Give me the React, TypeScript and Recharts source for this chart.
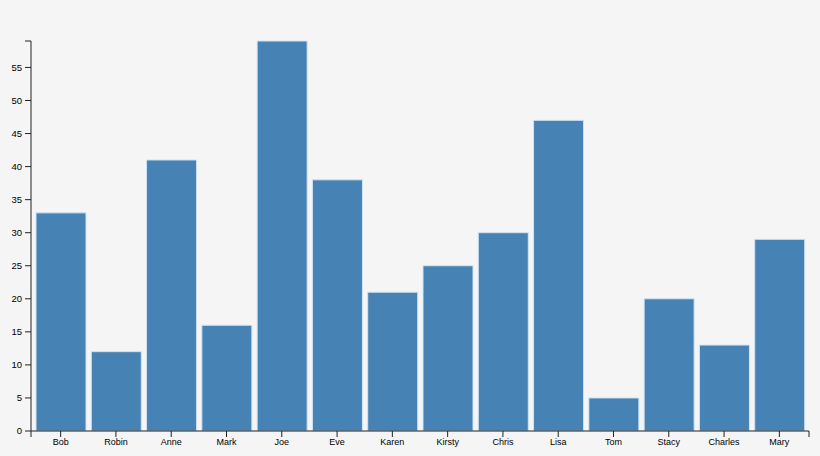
import React from "react";
import { BarChart, Bar, XAxis, YAxis } from "recharts";

const names = ["Bob", "Robin", "Anne", "Mark", "Joe", "Eve", "Karen", "Kirsty", "Chris", "Lisa", "Tom", "Stacy", "Charles", "Mary"];
const values = [33, 12, 41, 16, 59, 38, 21, 25, 30, 47, 5, 20, 13, 29];
const yTicks = [0, 5, 10, 15, 20, 25, 30, 35, 40, 45, 50, 55, 59];
const yLabelled = [0, 5, 10, 15, 20, 25, 30, 35, 40, 45, 50, 55];

const data = names.map((name, i) => ({ name, value: values[i] }));

const W = 820;
const H = 456;
const MARGIN = { top: 41, right: 11, bottom: 0, left: 0 };
const Y_AXIS_W = 31;
const X_AXIS_H = 25;
const PLOT_LEFT = MARGIN.left + Y_AXIS_W;
const PLOT_RIGHT = W - MARGIN.right;
const AXIS_COLOR = "#222";
const FONT = "'Liberation Sans', Arial, sans-serif";

const YTick = (props: any) => {
  const { y, payload } = props;
  const v = payload.value;
  const x2 = PLOT_LEFT;
  const x1 = PLOT_LEFT - 6;
  return (
    <g>
      <line x1={x1} x2={x2} y1={y} y2={y} stroke={AXIS_COLOR} strokeWidth={1} />
      {yLabelled.includes(v) ? (
        <text x={x1 - 3} y={y} dy={3.3} textAnchor="end" fontSize={9.5} fontFamily={FONT} fill="#000">
          {v}
        </text>
      ) : null}
    </g>
  );
};

const XTick = (props: any) => {
  const { x, y, payload, index } = props;
  const last = names.length - 1;
  return (
    <g>
      <line x1={x} x2={x} y1={y - 6} y2={y} stroke={AXIS_COLOR} strokeWidth={1} />
      {index === 0 ? <line x1={PLOT_LEFT} x2={PLOT_LEFT} y1={y - 6} y2={y} stroke={AXIS_COLOR} strokeWidth={1} /> : null}
      {index === last ? <line x1={PLOT_RIGHT} x2={PLOT_RIGHT} y1={y - 6} y2={y} stroke={AXIS_COLOR} strokeWidth={1} /> : null}
      <text x={x} y={y} dy={7.5} textAnchor="middle" fontSize={9} fontFamily={FONT} fill="#000">
        {payload.value}
      </text>
    </g>
  );
};

export default function App() {
  return (
    <div style={{ position: "fixed", left: 0, top: 0, width: W, height: H, background: "#f5f5f5" }}>
      <BarChart width={W} height={H} data={data} margin={MARGIN}>
        <XAxis
          dataKey="name"
          height={X_AXIS_H}
          padding={{ left: 2, right: 2 }}
          tickLine={false}
          tickSize={6}
          tickMargin={0}
          interval={0}
          axisLine={{ stroke: AXIS_COLOR, strokeWidth: 1 }}
          tick={<XTick />}
        />
        <YAxis
          width={Y_AXIS_W}
          domain={[0, 59]}
          ticks={yTicks}
          interval={0}
          tickLine={false}
          tickSize={6}
          tickMargin={2}
          axisLine={{ stroke: AXIS_COLOR, strokeWidth: 1 }}
          tick={<YTick />}
        />
        <Bar dataKey="value" fill="#4682b4" stroke="#cfe3f4" strokeWidth={1} barSize={50} isAnimationActive={false} />
      </BarChart>
    </div>
  );
}
